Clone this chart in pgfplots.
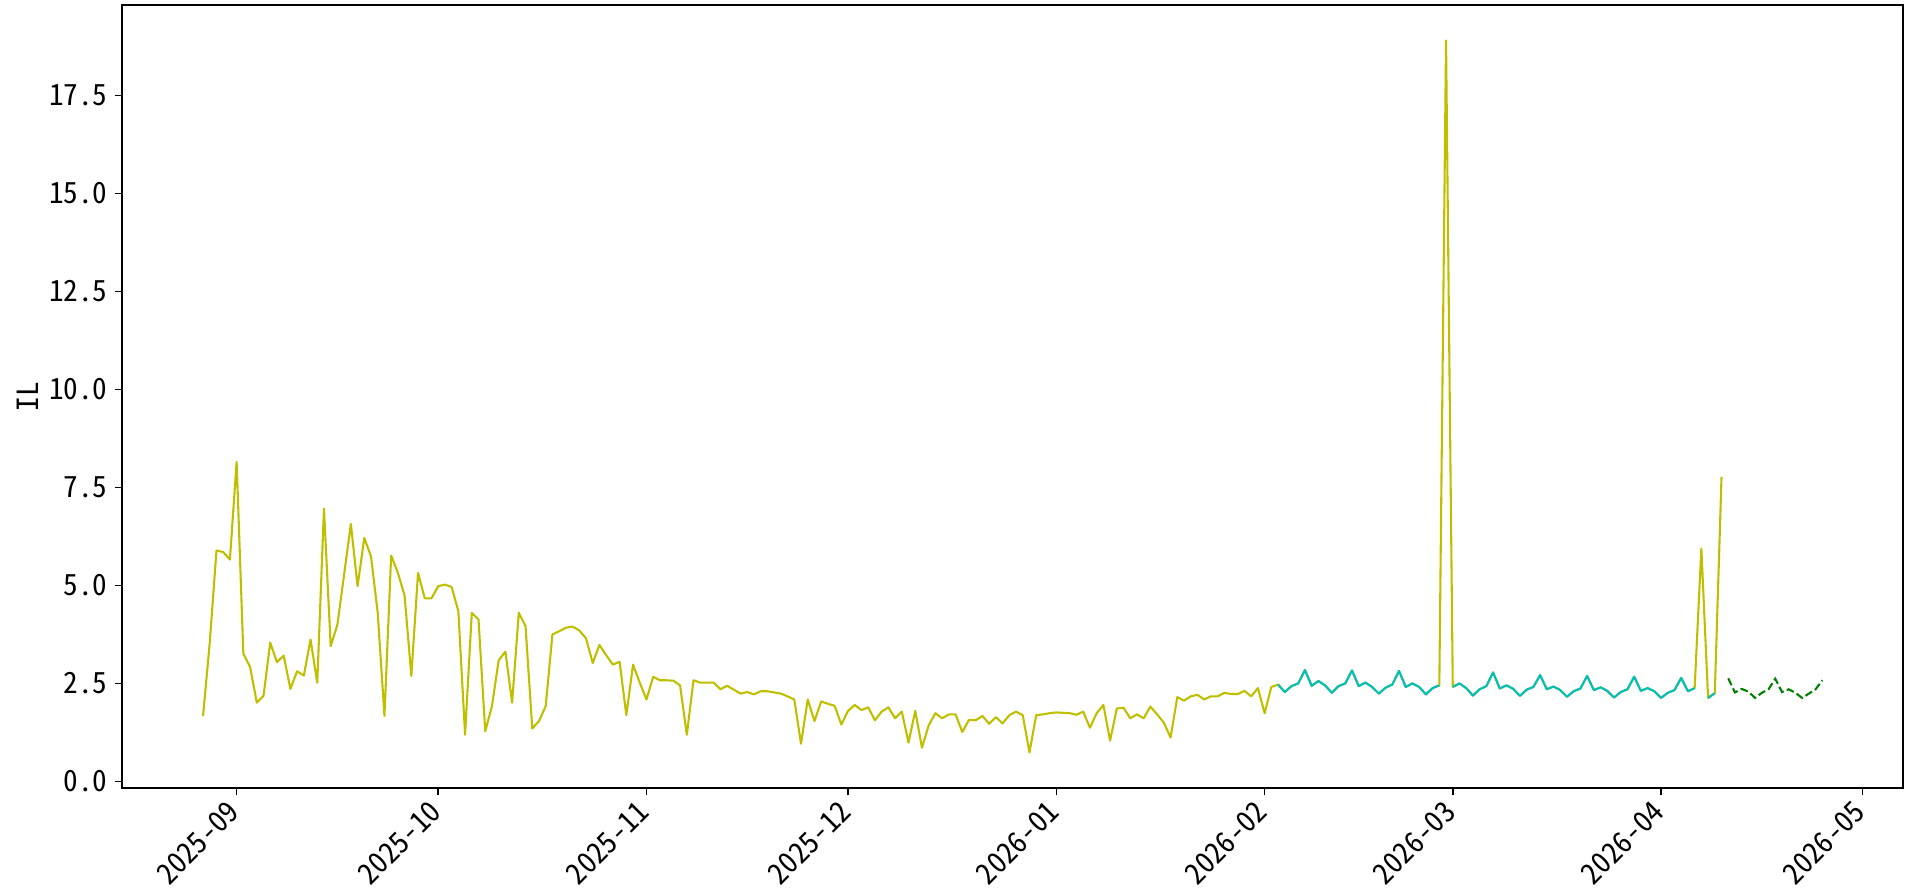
\documentclass[border=0pt]{standalone}
\usepackage{pgfplots}
\pgfplotsset{compat=1.18}
\usepackage{fontspec}
\setmainfont{Noto Sans CJK SC}[RawFeature=+hwid]
\definecolor{mply}{HTML}{BFBF00}
\definecolor{mplc}{HTML}{00BFBF}
\definecolor{mplg}{HTML}{008000}

% day 0 = 2025-09-01
\pgfplotstableread{
d v
-5 1.67
-4 3.54
-3 5.89
-2 5.85
-1 5.66
0 8.15
1 3.26
2 2.92
3 2.01
4 2.18
5 3.54
6 3.04
7 3.21
8 2.36
9 2.81
10 2.70
11 3.62
12 2.52
13 6.96
14 3.45
15 4.00
16 5.28
17 6.57
18 4.98
19 6.21
20 5.74
21 4.30
22 1.67
23 5.76
24 5.32
25 4.74
26 2.69
27 5.32
28 4.67
29 4.67
30 4.98
31 5.02
32 4.96
33 4.34
34 1.19
35 4.30
36 4.13
37 1.28
38 1.92
39 3.09
40 3.31
41 2.01
42 4.30
43 3.96
44 1.35
45 1.54
46 1.92
47 3.75
48 3.83
49 3.92
50 3.95
51 3.85
52 3.65
53 3.02
54 3.48
55 3.22
56 2.98
57 3.05
58 1.69
59 2.98
60 2.52
61 2.09
62 2.67
63 2.58
64 2.58
65 2.57
66 2.45
67 1.19
68 2.58
69 2.52
70 2.52
71 2.52
72 2.35
73 2.44
74 2.34
75 2.24
76 2.28
77 2.22
78 2.30
79 2.30
80 2.27
81 2.24
82 2.17
83 2.09
84 0.96
85 2.09
86 1.54
87 2.04
88 1.98
89 1.93
90 1.45
91 1.80
92 1.95
93 1.82
94 1.89
95 1.56
96 1.78
97 1.89
98 1.61
99 1.78
100 0.99
101 1.80
102 0.86
103 1.43
104 1.74
105 1.61
106 1.71
107 1.71
108 1.26
109 1.57
110 1.56
111 1.67
112 1.47
113 1.64
114 1.48
115 1.69
116 1.78
117 1.69
118 0.74
119 1.69
120 1.71
121 1.74
122 1.76
123 1.75
124 1.74
125 1.70
126 1.78
127 1.37
128 1.74
129 1.95
130 1.04
131 1.86
132 1.88
133 1.61
134 1.71
135 1.61
136 1.91
137 1.71
138 1.50
139 1.12
140 2.15
141 2.06
142 2.17
143 2.21
144 2.09
145 2.17
146 2.17
147 2.26
148 2.23
149 2.23
150 2.31
151 2.17
152 2.38
153 1.74
154 2.41
155 2.47
156 2.28
157 2.43
158 2.50
159 2.84
160 2.44
161 2.56
162 2.45
163 2.26
164 2.43
165 2.50
166 2.83
167 2.43
168 2.52
169 2.41
170 2.24
171 2.39
172 2.47
173 2.82
174 2.41
175 2.50
176 2.41
177 2.22
178 2.38
179 2.45
180 18.90
181 2.41
182 2.50
183 2.38
184 2.19
185 2.35
186 2.43
187 2.78
188 2.37
189 2.45
190 2.36
191 2.18
192 2.34
193 2.41
194 2.71
195 2.35
196 2.42
197 2.33
198 2.16
199 2.30
200 2.37
201 2.69
202 2.33
203 2.40
204 2.31
205 2.14
206 2.28
207 2.35
208 2.67
209 2.31
210 2.38
211 2.30
212 2.13
213 2.26
214 2.33
215 2.64
216 2.30
217 2.38
218 5.94
219 2.13
220 2.25
221 7.77
}\actual

\pgfplotstableread{
d v
155 2.47
156 2.28
157 2.43
158 2.50
159 2.84
160 2.44
161 2.56
162 2.45
163 2.26
164 2.43
165 2.50
166 2.83
167 2.43
168 2.52
169 2.41
170 2.24
171 2.39
172 2.47
173 2.82
174 2.41
175 2.50
176 2.41
177 2.22
178 2.38
179 2.45
180 nan
181 2.41
182 2.50
183 2.38
184 2.19
185 2.35
186 2.43
187 2.78
188 2.37
189 2.45
190 2.36
191 2.18
192 2.34
193 2.41
194 2.71
195 2.35
196 2.42
197 2.33
198 2.16
199 2.30
200 2.37
201 2.69
202 2.33
203 2.40
204 2.31
205 2.14
206 2.28
207 2.35
208 2.67
209 2.31
210 2.38
211 2.30
212 2.13
213 2.26
214 2.33
215 2.64
216 2.30
217 2.38
218 nan
219 2.13
220 2.25
}\cleaned

\pgfplotstableread{
d v
222 2.63
223 2.27
224 2.36
225 2.29
226 2.13
227 2.26
228 2.35
229 2.62
230 2.28
231 2.35
232 2.26
233 2.13
234 2.24
235 2.35
236 2.58
}\forecast

\begin{document}
\begin{tikzpicture}
\path[use as bounding box] (-58.6pt,-49.4pt) rectangle (856.8pt,378.3pt);
\begin{axis}[
  at={(0,0)}, anchor=south west,
  scale only axis,
  width=855pt, height=376pt,
  xmin=-17.05, xmax=248.05,
  ymin=-0.17, ymax=19.81,
  font=\fontsize{14}{16}\selectfont,
  /pgf/number format/assume math mode=true,
  xtick={0,30,61,91,122,153,181,212,242},
  xticklabels={2025-09,2025-10,2025-11,2025-12,2026-01,2026-02,2026-03,2026-04,2026-05},
  ytick={0,2.5,5,7.5,10,12.5,15,17.5},
  yticklabel style={/pgf/number format/fixed, /pgf/number format/fixed zerofill, /pgf/number format/precision=1},
  xticklabel style={xshift=-5pt, rotate=45, anchor=north east, inner sep=1pt},
  tick align=outside, tick pos=left,
  major tick length=3.5pt,
  every tick/.style={black, line width=0.8pt},
  axis line style={line width=0.8pt},
  ylabel={IL},
  ylabel style={yshift=-2pt},
  unbounded coords=jump,
]
\addplot[mply, line width=1pt, line join=round] table[x=d, y=v] {\actual};
\addplot[mplc, line width=1pt, line join=round] table[x=d, y=v] {\cleaned};
\addplot[mplg, line width=1pt, dash pattern=on 3.7pt off 1.6pt] table[x=d, y=v] {\forecast};
\end{axis}
\end{tikzpicture}
\end{document}
